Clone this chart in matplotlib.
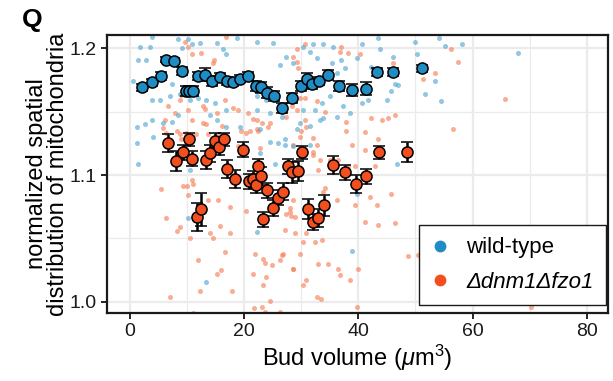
import numpy as np
import matplotlib
matplotlib.use('Agg')
import matplotlib.pyplot as plt
from matplotlib.lines import Line2D

plt.rcParams['font.family'] = ['Liberation Sans', 'DejaVu Sans']
plt.rcParams['mathtext.fontset'] = 'custom'
plt.rcParams['mathtext.it'] = 'Liberation Sans:italic'
plt.rcParams['mathtext.rm'] = 'Liberation Sans'

# background cells (bud volume, value)
wt_x = [1.8, 3.5, 3.8, 8.5, 9.1, 10.8, 10.2, 12.3, 15.2, 16.3, 16.9, 18.7, 22.2, 25.0, 26.3, 27.4, 28.5,
        0.6, 1.5, 2.9, 3.8, 5.3, 7.3, 7.0, 8.8, 10.5, 12.0, 13.4, 14.9, 16.9, 22.2, 23.9, 22.2, 24.5, 26.6,
        3.8, 1.2, 5.8, 7.3, 8.5, 14.0, 15.2, 16.9, 19.3, 22.8, 1.5, 27.1, 29.2,
        1.3, 2.6, 4.1, 10.5, 10.2, 13.4, 22.2, 22.8, 25.4, 24.5, 26.0, 27.1, 28.6, 31.5, 29.8, 31.5, 39.7, 38.8, 46.7,
        45.0, 40.6, 41.7, 37.3, 36.2, 33.3, 36.2, 37.6, 37.0, 35.6, 33.8, 32.1, 30.3, 31.5, 32.7, 35.3, 39.7, 40.6,
        43.8, 43.5, 46.1, 46.4, 47.0, 45.8, 42.3, 35.0, 33.6, 32.4, 33.8, 30.3, 38.5,
        53.5, 54.4, 58.1, 54.1, 55.2, 51.6, 50.2, 49.9, 68.0]
wt_y = [1.201, 1.201, 1.209, 1.207, 1.200, 1.203, 1.207, 1.204, 1.204, 1.199, 1.195, 1.208, 1.205, 1.204, 1.187, 1.193, 1.188,
        1.174, 1.191, 1.191, 1.159, 1.159, 1.172, 1.162, 1.164, 1.159, 1.161, 1.159, 1.157, 1.151, 1.162, 1.159, 1.151, 1.149, 1.146,
        1.143, 1.138, 1.141, 1.142, 1.147, 1.147, 1.143, 1.138, 1.138, 1.136, 1.109, 1.128, 1.136,
        1.125, 1.140, 1.130, 1.104, 1.066, 1.016, 1.055, 1.117, 1.109, 1.126, 1.125, 1.124, 1.123, 1.124, 1.141, 1.139, 1.085, 1.040, 1.109,
        1.159, 1.157, 1.159, 1.154, 1.146, 1.143, 1.180, 1.184, 1.191, 1.201, 1.203, 1.203, 1.201, 1.197, 1.192, 1.188, 1.192, 1.203,
        1.199, 1.208, 1.193, 1.172, 1.171, 1.166, 1.185, 1.162, 1.157, 1.151, 1.145, 1.151, 1.149,
        1.174, 1.158, 1.203, 1.208, 1.202, 1.164, 1.195, 1.205, 1.196]

mut_x = [29.2, 30.6, 37.0, 38.2, 40.3, 36.8, 46.1, 29.4, 30.6, 29.8, 32.7, 34.1, 29.2, 30.6, 30.9, 30.0, 29.8, 32.1,
         37.9, 37.9, 41.1, 42.3, 44.1, 45.2, 46.4, 43.5, 41.1, 38.8, 42.9, 39.4, 35.0, 33.0, 32.1, 28.6,
         51.4, 53.4, 56.2, 57.4, 65.7, 56.6,
         33.3, 32.1, 32.7, 36.5, 38.2, 36.2, 33.8, 34.1, 42.0, 43.2, 45.8, 41.1, 43.5, 46.4, 39.4, 28.6, 28.0, 28.9,
         28.9, 30.9, 30.3, 32.4, 33.6, 29.8, 26.8, 28.6, 33.0, 34.7, 36.5, 36.8, 40.0, 38.5, 30.9, 30.3, 32.7, 33.4,
         39.7, 48.7, 50.5,
         5.8, 8.8, 9.9, 11.6, 13.4, 15.2, 16.1, 20.4, 21.1, 22.2, 23.1, 24.5, 5.5, 9.3, 10.0, 10.8, 11.1, 10.2,
         6.4, 8.8, 8.2, 14.0, 14.6, 10.5, 13.7, 15.4, 15.8, 17.5, 17.5, 16.6, 12.0, 16.0, 15.2, 7.0, 12.3, 17.8,
         20.4, 21.9, 21.5, 23.3, 23.6, 24.8, 26.6, 26.3, 23.9, 23.3, 24.5, 23.2, 28.6, 27.1, 27.4, 28.2, 28.0,
         21.8, 23.7, 70.3, 11.1, 26.3,
         6.4, 6.7, 9.0, 8.8, 10.2, 12.8, 14.6, 14.8, 16.9, 10.2, 9.6, 16.6, 18.1, 18.9, 15.2, 20.7, 21.5, 22.2,
         19.5, 22.5, 24.2, 27.4, 28.3, 28.6, 29.2, 6.1, 8.2, 9.0, 12.8, 13.7, 18.9, 22.8,
         10.8, 12.5, 7.9, 10.8, 13.1]
mut_y = [1.199, 1.203, 1.201, 1.196, 1.195, 1.197, 1.188, 1.184, 1.161, 1.161, 1.158, 1.150, 1.151, 1.143, 1.138, 1.135, 1.130, 1.129,
         1.142, 1.135, 1.134, 1.145, 1.143, 1.145, 1.147, 1.128, 1.120, 1.124, 1.107, 1.107, 1.112, 1.104, 1.118, 1.124,
         1.176, 1.180, 1.199, 1.189, 1.160, 1.136,
         1.112, 1.116, 1.124, 1.112, 1.107, 1.080, 1.087, 1.090, 1.083, 1.076, 1.085, 1.063, 1.061, 1.062, 1.076, 1.080, 1.071, 1.067,
         1.054, 1.054, 1.047, 1.047, 1.049, 1.038, 1.038, 1.026, 1.030, 1.030, 1.026, 1.021, 1.026, 1.017, 1.017, 1.013, 1.004, 1.002,
         0.996, 1.036, 1.037,
         1.137, 1.132, 1.133, 1.132, 1.140, 1.132, 1.139, 1.133, 1.135, 1.136, 1.141, 1.141, 1.089, 1.091, 1.091, 1.096, 1.093, 1.084,
         1.066, 1.059, 1.056, 1.054, 1.050, 1.050, 1.080, 1.080, 1.060, 1.075, 1.054, 1.039, 1.033, 1.025, 1.022, 1.004, 1.009, 1.009,
         1.072, 1.038, 1.022, 1.034, 1.031, 1.029, 1.037, 1.033, 1.020, 1.013, 1.001, 0.996, 1.026, 1.057, 1.069, 1.068, 1.074,
         0.995, 0.992, 0.996, 0.991, 0.992,
         1.133, 1.154, 1.163, 1.159, 1.151, 1.154, 1.188, 1.191, 1.209, 1.201, 1.205, 1.159, 1.153, 1.151, 1.149, 1.149, 1.144, 1.143,
         1.135, 1.135, 1.138, 1.146, 1.154, 1.193, 1.189, 1.143, 1.135, 1.128, 1.141, 1.132, 1.123, 1.121,
         1.195, 1.196, 1.149, 1.143, 1.152]

# binned means with error bars
wt_mx = [2.2, 3.9, 5.4, 6.3, 7.7, 9.1, 9.8, 10.4, 11.0, 12.0, 13.2, 14.4, 15.7, 17.0, 18.1, 19.3, 20.7,
         22.1, 23.0, 24.0, 25.3, 26.6, 28.3, 29.9, 31.0, 31.9, 33.1, 34.6, 36.6, 38.8, 41.4, 43.3, 46.0, 51.1]
wt_my = [1.169, 1.173, 1.178, 1.191, 1.190, 1.182, 1.1665, 1.1665, 1.1665, 1.178, 1.179, 1.174, 1.177, 1.174, 1.173, 1.176, 1.178,
         1.170, 1.169, 1.165, 1.162, 1.153, 1.161, 1.170, 1.176, 1.172, 1.174, 1.179, 1.170, 1.167, 1.168, 1.181, 1.181, 1.184]
wt_err = [0.003, 0.003, 0.003, 0.002, 0.002, 0.003, 0.004, 0.004, 0.004, 0.003, 0.005, 0.004, 0.003, 0.003, 0.003, 0.003, 0.003,
          0.004, 0.004, 0.004, 0.004, 0.004, 0.004, 0.004, 0.004, 0.004, 0.003, 0.004, 0.004, 0.005, 0.005, 0.003, 0.003, 0.003]

mut_mx = [6.65, 8.1, 9.3, 10.3, 10.9, 11.8, 12.5, 13.4, 14.1, 14.9, 15.6, 16.4, 17.0, 18.4, 19.8, 20.8, 21.6, 22.1, 22.5,
          23.0, 23.3, 24.0, 25.1, 26.0, 26.8, 27.6, 28.4, 29.4, 30.1, 31.1, 32.1, 33.0, 34.0, 35.6, 37.6, 39.5, 41.3, 43.6, 48.6]
mut_my = [1.125, 1.111, 1.118, 1.128, 1.113, 1.067, 1.073, 1.112, 1.117, 1.127, 1.122, 1.128, 1.105, 1.097, 1.120, 1.095, 1.097, 1.092, 1.107,
          1.099, 1.065, 1.088, 1.074, 1.082, 1.087, 1.107, 1.102, 1.103, 1.118, 1.073, 1.063, 1.066, 1.076, 1.108, 1.102, 1.093, 1.099, 1.118, 1.118]
mut_err = [0.007, 0.008, 0.006, 0.005, 0.006, 0.011, 0.013, 0.007, 0.007, 0.006, 0.006, 0.005, 0.007, 0.007, 0.006, 0.006, 0.006, 0.006, 0.006,
           0.007, 0.006, 0.006, 0.006, 0.006, 0.007, 0.006, 0.008, 0.008, 0.005, 0.008, 0.006, 0.007, 0.008, 0.007, 0.006, 0.007, 0.006, 0.005, 0.008]

blue = '#1f8dc4'
red = '#f24e1e'

fig = plt.figure(figsize=(6.13, 3.81), dpi=100)
ax = fig.add_axes([0.1746, 0.1785, 0.8172, 0.7296])

# grid like ggplot theme
ax.set_axisbelow(True)
ax.set_xticks([10, 30, 50, 70], minor=True)
ax.set_yticks([1.05, 1.15], minor=True)
ax.grid(which='major', color='#ebebeb', linewidth=1.6)
ax.grid(which='minor', color='#ebebeb', linewidth=0.9)

# raw cells
ax.scatter(mut_x, mut_y, s=13, color='#f7825a', alpha=0.65, linewidths=0, zorder=2)
ax.scatter(wt_x, wt_y, s=13, color='#56a9d4', alpha=0.65, linewidths=0, zorder=2)

# means
ax.errorbar(mut_mx, mut_my, yerr=mut_err, fmt='o', ms=8, mfc=red, mec='black', mew=1.1,
            ecolor='black', elinewidth=1.8, capsize=4.5, capthick=1.8, zorder=3)
ax.errorbar(wt_mx, wt_my, yerr=wt_err, fmt='o', ms=8, mfc=blue, mec='black', mew=1.1,
            ecolor='black', elinewidth=1.8, capsize=4.5, capthick=1.8, zorder=4)

ax.set_xlim(-4.0, 83.7)
ax.set_ylim(0.9913, 1.2103)
ax.set_xticks([0, 20, 40, 60, 80])
ax.set_yticks([1.0, 1.1, 1.2])
ax.set_yticklabels(['1.0', '1.1', '1.2'])
ax.tick_params(which='major', direction='out', length=4, width=1.2, labelsize=14, colors='black', labelcolor='#1a1a1a')
ax.tick_params(which='minor', length=0)
for s in ax.spines.values():
    s.set_linewidth(1.6)
    s.set_color('#1a1a1a')

ax.set_xlabel('Bud volume ($\\mu$m$^3$)', fontsize=17, labelpad=2)
ax.set_ylabel('normalized spatial\ndistribution of mitochondria', fontsize=17, labelpad=0, linespacing=0.95)

handles = [Line2D([], [], marker='o', linestyle='none', ms=8.5, color=blue, mec='none'),
           Line2D([], [], marker='o', linestyle='none', ms=8.5, color=red, mec='none')]
leg = ax.legend(handles, ['wild-type', 'Δdnm1Δfzo1'], loc='lower right',
                fontsize=16, frameon=True, fancybox=False, framealpha=1, edgecolor='#1a1a1a',
                handletextpad=0.8, handlelength=0.8, borderpad=0.55, labelspacing=0.6,
                borderaxespad=0, bbox_to_anchor=(0.996, 0.029))
leg.get_frame().set_linewidth(1.0)
leg.get_texts()[1].set_fontstyle('italic')

fig.text(0.036, 0.93, 'Q', fontsize=19, fontweight='bold')

plt.savefig('out.png', dpi=100)
